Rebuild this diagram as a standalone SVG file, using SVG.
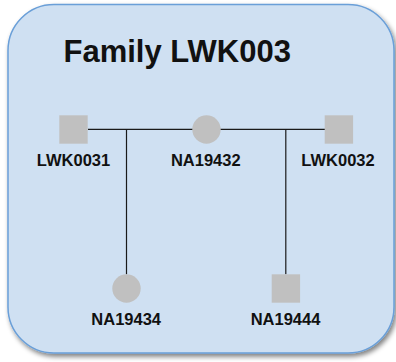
<svg xmlns="http://www.w3.org/2000/svg" width="396" height="362" viewBox="0 0 396 362">
<defs>
<filter id="sh" x="-10%" y="-10%" width="130%" height="130%">
<feGaussianBlur in="SourceAlpha" stdDeviation="2.5"/>
<feOffset dx="2" dy="3" result="b"/>
<feComponentTransfer><feFuncA type="linear" slope="0.5"/></feComponentTransfer>
<feMerge><feMergeNode/><feMergeNode in="SourceGraphic"/></feMerge>
</filter>
<style>
.lbl{font-family:"Liberation Sans",Arial,sans-serif;font-weight:bold;font-size:16.5px;fill:#111;text-anchor:middle}
.sym{fill:#c0c0c0}
.ln{stroke:#1a1a1a;stroke-width:1.2;fill:none}
</style>
</defs>
<rect x="8" y="4.5" width="386" height="348.5" rx="46" ry="46" fill="#cfe0f2" stroke="#6a9fd8" stroke-width="1.5" filter="url(#sh)"/>
<text x="63.5" y="61.7" font-family="Liberation Sans, Arial, sans-serif" font-weight="bold" font-size="31" fill="#111">Family LWK003</text>
<g id="connectors">
<line class="ln" x1="88" y1="129.3" x2="325" y2="129.3"/>
<line class="ln" x1="126.5" y1="129.3" x2="126.5" y2="274.3"/>
<line class="ln" x1="285.8" y1="129.3" x2="285.8" y2="274.3"/>
</g>
<g id="LWK0031">
<rect class="sym" x="59.3" y="115.3" width="28.4" height="28.4"/>
<text class="lbl" x="73.5" y="166">LWK0031</text>
</g>
<g id="NA19432">
<circle class="sym" cx="206.5" cy="129.5" r="14.2"/>
<text class="lbl" x="205.8" y="166">NA19432</text>
</g>
<g id="LWK0032">
<rect class="sym" x="324.7" y="115.3" width="28.4" height="28.4"/>
<text class="lbl" x="338" y="166">LWK0032</text>
</g>
<g id="NA19434">
<circle class="sym" cx="126.5" cy="288.5" r="14.2"/>
<text class="lbl" x="126.2" y="325">NA19434</text>
</g>
<g id="NA19444">
<rect class="sym" x="271.7" y="274.3" width="28.4" height="28.4"/>
<text class="lbl" x="285.5" y="325">NA19444</text>
</g>
</svg>
